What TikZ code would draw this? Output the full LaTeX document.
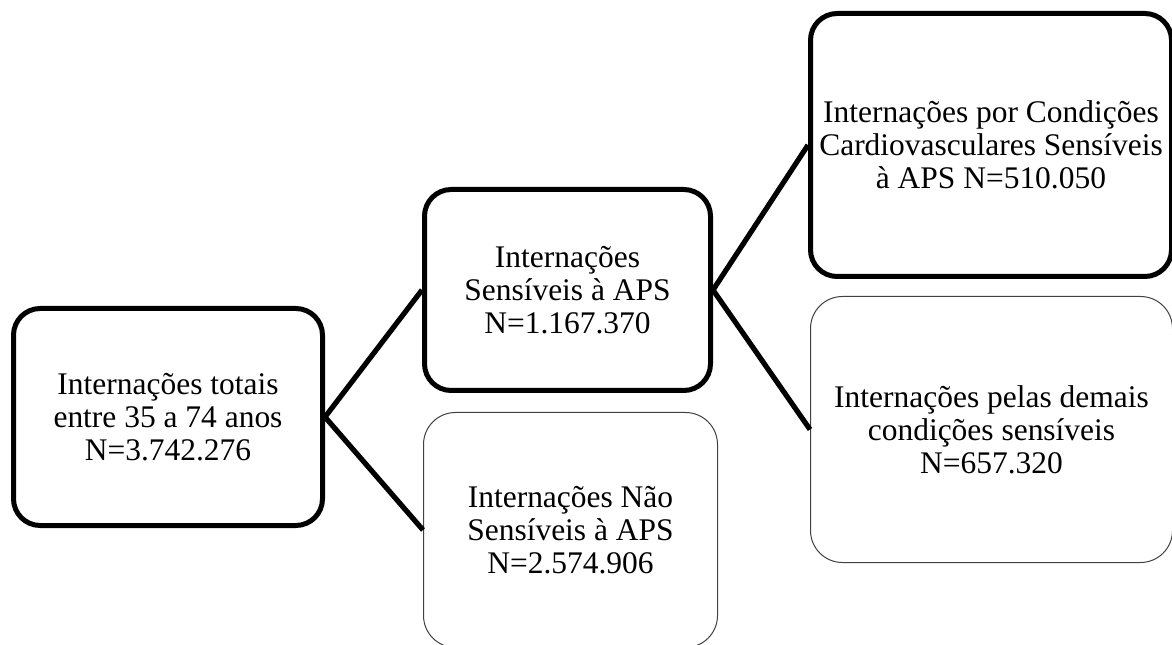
\documentclass[tikz,border=0pt]{standalone}
\usepackage{fontspec}
\setmainfont{Liberation Serif}
\begin{document}
\begin{tikzpicture}[x=0.75pt,y=-0.75pt,
  box/.style={draw=black,fill=white,align=center,inner sep=0pt,
    font=\fontsize{23.6pt}{24.8pt}\selectfont},
  thickbox/.style={box,line width=3.75pt,rounded corners=20pt},
  thinbox/.style={box,draw=black!75,line width=0.75pt,rounded corners=24pt},
  link/.style={line width=3.9pt}]
\useasboundingbox (0,0) rectangle (1172,645);
\node[thickbox,minimum width=231.75pt,minimum height=162.75pt] (total) at (168,417)
  {Internações totais\\entre 35 a 74 anos\\N=3.742.276};
\node[thickbox,minimum width=214.5pt,minimum height=150.75pt] (sens) at (567.5,290)
  {Internações\\Sensíveis à APS\\N=1.167.370};
\node[thinbox,minimum width=220.5pt,minimum height=176.25pt] (nsens) at (570.5,530)
  {Internações Não\\Sensíveis à APS\\N=2.574.906};
\node[thickbox,minimum width=270.75pt,minimum height=197.25pt] (cardio) at (991,145)
  {Internações por Condições\\Cardiovasculares Sensíveis\\à APS N=510.050};
\node[thinbox,minimum width=271.5pt,minimum height=199.5pt] (demais) at (991.5,429.5)
  {Internações pelas demais\\condições sensíveis\\N=657.320};
\draw[link] (total.east) -- (sens.west);
\draw[link] (total.east) -- (nsens.west);
\draw[link] (sens.east) -- (cardio.west);
\draw[link] (sens.east) -- (demais.west);
\end{tikzpicture}
\end{document}
